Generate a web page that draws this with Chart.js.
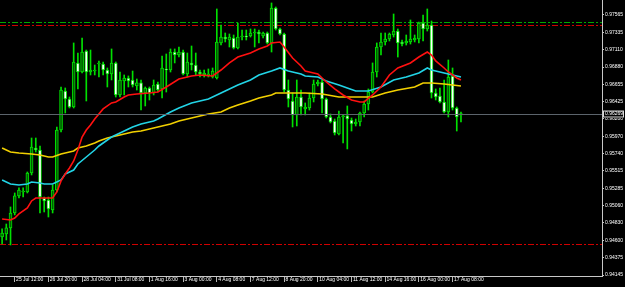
<!DOCTYPE html>
<html>
<head>
<meta charset="utf-8">
<script src="https://cdn.jsdelivr.net/npm/chart.js@4.4.0/dist/chart.umd.min.js"></script>
<style>
  html, body { margin: 0; padding: 0; background: #000; }
  canvas { display: block; }
</style>
</head>
<body>
<canvas id="chart" width="625" height="287"></canvas>
<script>
// H4 bars, index 0 = 25 Jul 00:00; empty slots on the right like the terminal shift
const barCount = 143;

const tickBars = [3, 11, 19, 27, 35, 43, 51, 59, 67, 75, 83, 91, 99, 107];
const tickLabels = ["25 Jul 12:00", "26 Jul 20:00", "28 Jul 04:00", "31 Jul 08:00", "1 Aug 16:00",
  "3 Aug 00:00", "4 Aug 08:00", "7 Aug 12:00", "8 Aug 20:00", "10 Aug 04:00", "11 Aug 12:00",
  "14 Aug 16:00", "16 Aug 00:00", "17 Aug 08:00"];

const priceTicks = [0.97565, 0.97335, 0.97110, 0.96880, 0.96655, 0.96425, 0.96200, 0.95970,
  0.95740, 0.95515, 0.95285, 0.95060, 0.94830, 0.94600, 0.94375, 0.94145];

const opens = [
  0.94645, 0.94685, 0.94764, 0.94961, 0.95185, 0.95237, 0.95237, 0.95487, 0.95816, 0.95789,
  0.95158, 0.95132, 0.95000, 0.95263, 0.96052, 0.96565, 0.96460, 0.96355, 0.96934, 0.96815,
  0.97091, 0.96815, 0.96828, 0.96920, 0.96920, 0.96841, 0.96789, 0.96934, 0.96513, 0.96697,
  0.96736, 0.96710, 0.96631, 0.96671, 0.96539, 0.96605, 0.96539, 0.96657, 0.96592, 0.96855,
  0.96841, 0.97078, 0.97039, 0.97078, 0.96789, 0.96934, 0.96907, 0.96815, 0.96776, 0.96776,
  0.96749, 0.96736, 0.97197, 0.97275, 0.97236, 0.97262, 0.97131, 0.97275, 0.97289, 0.97289,
  0.97328, 0.97341, 0.97289, 0.97328, 0.97197, 0.97657, 0.97381, 0.97315, 0.96578, 0.96434,
  0.96250, 0.96486, 0.96329, 0.96342, 0.96473, 0.96657, 0.96684, 0.96460, 0.96223, 0.96171,
  0.96000, 0.96223, 0.96237, 0.96184, 0.96131, 0.96158, 0.96276, 0.96394, 0.96552, 0.96815,
  0.97144, 0.97210, 0.97249, 0.97302, 0.97354, 0.97210, 0.97197, 0.97210, 0.97236, 0.97249,
  0.97460, 0.97381, 0.97433, 0.96539, 0.96499, 0.96421, 0.96289, 0.96763, 0.96342, 0.96250
];
const highs = [
  0.94751, 0.94816, 0.95040, 0.95224, 0.95290, 0.95290, 0.95500, 0.95947, 0.95947, 0.95842,
  0.95171, 0.95171, 0.95329, 0.96092, 0.96618, 0.96605, 0.96486, 0.97197, 0.97065, 0.97262,
  0.97104, 0.97104, 0.96907, 0.96960, 0.96947, 0.96868, 0.97118, 0.96947, 0.96815, 0.96776,
  0.96763, 0.96828, 0.96723, 0.96710, 0.96618, 0.96618, 0.96710, 0.96684, 0.97026, 0.97052,
  0.97118, 0.97118, 0.97144, 0.97104, 0.97065, 0.97157, 0.97065, 0.96841, 0.96841, 0.96855,
  0.96868, 0.97644, 0.97433, 0.97328, 0.97315, 0.97302, 0.97460, 0.97367, 0.97367, 0.97381,
  0.97381, 0.97367, 0.97341, 0.97341, 0.97723, 0.97670, 0.97394, 0.97328, 0.96710, 0.96539,
  0.96710, 0.96578, 0.96408, 0.96539, 0.96710, 0.96710, 0.96710, 0.96473, 0.96263, 0.96197,
  0.96302, 0.96250, 0.96368, 0.96210, 0.96197, 0.96289, 0.96434, 0.96592, 0.96934, 0.97197,
  0.97328, 0.97328, 0.97328, 0.97578, 0.97381, 0.97236, 0.97302, 0.97499, 0.97302, 0.97473,
  0.97565, 0.97644, 0.97486, 0.96592, 0.96605, 0.96710, 0.96973, 0.96868, 0.96355, 0.96289
];
const lows = [
  0.94553, 0.94606, 0.94540, 0.94935, 0.95158, 0.95171, 0.95224, 0.95461, 0.95763, 0.94961,
  0.94974, 0.94908, 0.94961, 0.95237, 0.96026, 0.96276, 0.96342, 0.96342, 0.96592, 0.96802,
  0.96434, 0.96776, 0.96776, 0.96749, 0.96776, 0.96618, 0.96710, 0.96486, 0.96486, 0.96513,
  0.96618, 0.96618, 0.96578, 0.96315, 0.96368, 0.96447, 0.96513, 0.96552, 0.96473, 0.96552,
  0.96815, 0.96934, 0.97012, 0.96776, 0.96749, 0.96841, 0.96776, 0.96749, 0.96749, 0.96749,
  0.96736, 0.96723, 0.97170, 0.97210, 0.97144, 0.97118, 0.97118, 0.97236, 0.97236, 0.97275,
  0.97144, 0.97197, 0.97262, 0.97183, 0.97078, 0.97367, 0.97302, 0.96552, 0.96355, 0.96092,
  0.96105, 0.96250, 0.96250, 0.96315, 0.96421, 0.96631, 0.96276, 0.96210, 0.96145, 0.95987,
  0.95987, 0.95882, 0.95803, 0.96039, 0.96105, 0.96105, 0.96223, 0.96315, 0.96539, 0.96749,
  0.97039, 0.97170, 0.97223, 0.97275, 0.97012, 0.97157, 0.97170, 0.97183, 0.97210, 0.97197,
  0.97223, 0.97354, 0.96473, 0.96447, 0.96408, 0.96276, 0.96223, 0.96315, 0.96039, 0.96158
];
const closes = [
  0.94698, 0.94764, 0.94961, 0.95185, 0.95263, 0.95250, 0.95487, 0.95829, 0.95789, 0.95171,
  0.95119, 0.95014, 0.95263, 0.96052, 0.96578, 0.96460, 0.96355, 0.96947, 0.96815, 0.97078,
  0.96815, 0.96841, 0.96841, 0.96934, 0.96841, 0.96789, 0.96934, 0.96513, 0.96710, 0.96736,
  0.96697, 0.96644, 0.96671, 0.96539, 0.96605, 0.96539, 0.96644, 0.96578, 0.96868, 0.96841,
  0.97078, 0.97039, 0.97078, 0.96789, 0.96947, 0.96907, 0.96815, 0.96789, 0.96802, 0.96789,
  0.96828, 0.97210, 0.97275, 0.97249, 0.97275, 0.97131, 0.97275, 0.97289, 0.97275, 0.97328,
  0.97341, 0.97315, 0.97328, 0.97197, 0.97657, 0.97381, 0.97315, 0.96578, 0.96460, 0.96250,
  0.96486, 0.96355, 0.96355, 0.96473, 0.96657, 0.96684, 0.96460, 0.96223, 0.96158, 0.96013,
  0.96223, 0.96237, 0.96197, 0.96131, 0.96158, 0.96276, 0.96394, 0.96552, 0.96815, 0.97144,
  0.97210, 0.97249, 0.97315, 0.97354, 0.97197, 0.97183, 0.97223, 0.97249, 0.97262, 0.97460,
  0.97381, 0.97433, 0.96539, 0.96486, 0.96421, 0.96289, 0.96749, 0.96342, 0.96223, 0.96269
];

// moving averages, read at these bar indices
const redIdx = [0, 2, 3, 4, 6, 7, 8, 12, 13, 14, 15, 16, 17, 18, 19, 20, 21, 22, 24, 26, 27, 29, 30, 32, 35,
  37, 39, 42, 45, 47, 50, 52, 54, 56, 59, 61, 63, 64, 66, 67, 69, 71, 72, 74, 75, 77, 79, 81, 83, 85, 86,
  88, 90, 92, 94, 97, 99, 101, 102, 103, 105, 106, 108, 109];
const redVal = [0.94882, 0.94869, 0.94895, 0.94948, 0.95027, 0.95119, 0.95158, 0.95158, 0.95237, 0.95382,
  0.95474, 0.95553, 0.95645, 0.95789, 0.95960, 0.96052, 0.96118, 0.96197, 0.96329, 0.96408,
  0.96421, 0.96486, 0.96513, 0.96526, 0.96539, 0.96552, 0.96618, 0.96723, 0.96763, 0.96776,
  0.96763, 0.96841, 0.96934, 0.97012, 0.97065, 0.97118, 0.97157, 0.97197, 0.97210, 0.97144,
  0.96999, 0.96894, 0.96828, 0.96802, 0.96789, 0.96684, 0.96592, 0.96513, 0.96447, 0.96421,
  0.96421, 0.96513, 0.96618, 0.96776, 0.96868, 0.96934, 0.97012, 0.97078, 0.97039, 0.96960,
  0.96868, 0.96815, 0.96736, 0.96710];

const cyanIdx = [0, 2, 4, 6, 7, 9, 10, 12, 14, 15, 17, 18, 20, 22, 23, 25, 26, 28, 30, 31, 33, 34, 36, 37,
  40, 42, 45, 47, 49, 52, 54, 56, 59, 61, 64, 66, 68, 71, 72, 75, 77, 80, 82, 84, 87, 90, 93, 96, 99,
  101, 102, 105, 107, 109];
const cyanVal = [0.95395, 0.95342, 0.95329, 0.95342, 0.95369, 0.95356, 0.95342, 0.95342, 0.95395, 0.95474,
  0.95526, 0.95605, 0.95697, 0.95789, 0.95842, 0.95921, 0.95960, 0.96013, 0.96066, 0.96092,
  0.96131, 0.96145, 0.96171, 0.96197, 0.96289, 0.96342, 0.96408, 0.96434, 0.96460, 0.96539,
  0.96592, 0.96644, 0.96710, 0.96776, 0.96828, 0.96868, 0.96828, 0.96789, 0.96763, 0.96749,
  0.96697, 0.96644, 0.96605, 0.96565, 0.96565, 0.96618, 0.96710, 0.96749, 0.96802, 0.96868,
  0.96841, 0.96802, 0.96776, 0.96749];

const goldIdx = [0, 2, 4, 7, 9, 11, 12, 14, 15, 17, 18, 20, 22, 23, 25, 26, 28, 30, 31, 33, 34, 36, 37, 40,
  42, 45, 47, 49, 52, 54, 56, 59, 61, 64, 65, 68, 72, 76, 80, 85, 88, 91, 94, 98, 100, 102, 105, 107, 109];
const goldVal = [0.95816, 0.95763, 0.95750, 0.95737, 0.95724, 0.95697, 0.95697, 0.95737, 0.95750, 0.95776,
  0.95816, 0.95842, 0.95882, 0.95908, 0.95947, 0.95960, 0.95987, 0.96013, 0.96026, 0.96039,
  0.96052, 0.96079, 0.96092, 0.96131, 0.96171, 0.96210, 0.96237, 0.96263, 0.96289, 0.96342,
  0.96381, 0.96434, 0.96473, 0.96513, 0.96539, 0.96539, 0.96539, 0.96526, 0.96486, 0.96486,
  0.96486, 0.96539, 0.96579, 0.96618, 0.96671, 0.96671, 0.96657, 0.96644, 0.96631];

// horizontal levels
const levelPrices = [0.97469, 0.97433, 0.94549];
const levelColors = ["#00a800", "#d00000", "#d00000"];
const bidPrice = 0.96269;

const labels = Array.from({ length: barCount }, (_, i) => String(i));
const lineData = (idx, vals) => {
  const d = new Array(barCount).fill(null);
  idx.forEach((b, k) => { d[b] = vals[k]; });
  return d;
};
const wicks = highs.map((h, i) => [lows[i], h]);
const bodies = opens.map((o, i) => [o, closes[i]]);
const bodyFill = opens.map((o, i) => (closes[i] >= o ? "#005c00" : "#ffffff"));

const levelsPlugin = {
  id: "levels",
  beforeDraw(chart) {
    const ctx = chart.ctx;
    ctx.save();
    ctx.fillStyle = "#000";
    ctx.fillRect(0, 0, chart.width, chart.height);
    ctx.restore();
  },
  beforeDatasetsDraw(chart) {
    const { ctx, chartArea: a, scales: { y } } = chart;
    ctx.save();
    ctx.lineWidth = 1;
    levelPrices.forEach((p, k) => {
      const py = Math.round(y.getPixelForValue(p)) + 0.5;
      ctx.strokeStyle = levelColors[k];
      ctx.setLineDash([6, 2, 2, 2]);
      ctx.beginPath();
      ctx.moveTo(a.left, py);
      ctx.lineTo(a.right, py);
      ctx.stroke();
    });
    ctx.restore();
  },
  afterDatasetsDraw(chart) {
    const { ctx, chartArea: a, scales: { y } } = chart;
    const py = Math.round(y.getPixelForValue(bidPrice)) + 0.5;
    ctx.save();
    ctx.strokeStyle = "#5c646c";
    ctx.lineWidth = 1;
    ctx.beginPath();
    ctx.moveTo(a.left, py);
    ctx.lineTo(a.right, py);
    ctx.stroke();
    // price tag on the axis
    ctx.fillStyle = "#000";
    ctx.fillRect(a.right + 1, py - 3.5, 21, 7);
    ctx.strokeStyle = "#d8d8d8";
    ctx.strokeRect(a.right + 1.5, py - 3.5, 20, 6);
    ctx.fillStyle = "#ffffff";
    ctx.font = "5px 'Liberation Sans', Arial, sans-serif";
    ctx.textBaseline = "middle";
    ctx.fillText(bidPrice.toFixed(5), a.right + 3, py - 0.5);
    ctx.restore();
  }
};

Chart.defaults.font.family = "'Liberation Sans', Arial, sans-serif";
Chart.defaults.font.size = 5;
Chart.defaults.color = "#ffffff";

new Chart(document.getElementById("chart"), {
  type: "bar",
  data: {
    labels: labels,
    datasets: [
      { type: "line", data: lineData(redIdx, redVal), borderColor: "#ff1010", borderWidth: 1.6,
        pointRadius: 0, spanGaps: true, tension: 0 },
      { type: "line", data: lineData(cyanIdx, cyanVal), borderColor: "#22d4e6", borderWidth: 1.6,
        pointRadius: 0, spanGaps: true, tension: 0 },
      { type: "line", data: lineData(goldIdx, goldVal), borderColor: "#f2d000", borderWidth: 1.6,
        pointRadius: 0, spanGaps: true, tension: 0 },
      { data: bodies, backgroundColor: bodyFill, borderColor: "#00e000", borderWidth: 1,
        borderSkipped: false, barThickness: 3, grouped: false },
      { data: wicks, backgroundColor: "#00e000", borderWidth: 0, barThickness: 1, grouped: false }
    ]
  },
  options: {
    responsive: false,
    animation: false,
    events: [],
    layout: { padding: 0 },
    plugins: { legend: { display: false }, tooltip: { enabled: false } },
    scales: {
      x: {
        type: "category",
        offset: true,
        grid: {
          offset: false,
          drawOnChartArea: false,
          tickLength: 6,
          color: (c) => (tickBars.includes(c.index) ? "#b8b8b8" : "transparent")
        },
        border: { color: "#c8c8c8" },
        ticks: {
          autoSkip: false,
          maxRotation: 0,
          align: "start",
          padding: -5,
          callback: (v, i) => {
            const k = tickBars.indexOf(i);
            return k >= 0 ? " " + tickLabels[k] : "";
          }
        },
        afterFit: (s) => { s.height = 11; s.paddingLeft = 0; s.paddingRight = 0; }
      },
      y: {
        position: "right",
        min: 0.94132,
        max: 0.97762,
        grid: { drawOnChartArea: false, tickLength: 2, color: "#c8c8c8" },
        border: { color: "#c8c8c8" },
        afterBuildTicks: (s) => { s.ticks = priceTicks.map((v) => ({ value: v })); },
        ticks: { padding: 1, callback: (v) => Number(v).toFixed(5) },
        afterFit: (s) => { s.width = 23; s.paddingTop = 0; s.paddingBottom = 0; }
      }
    }
  },
  plugins: [levelsPlugin]
});
</script>
</body>
</html>
